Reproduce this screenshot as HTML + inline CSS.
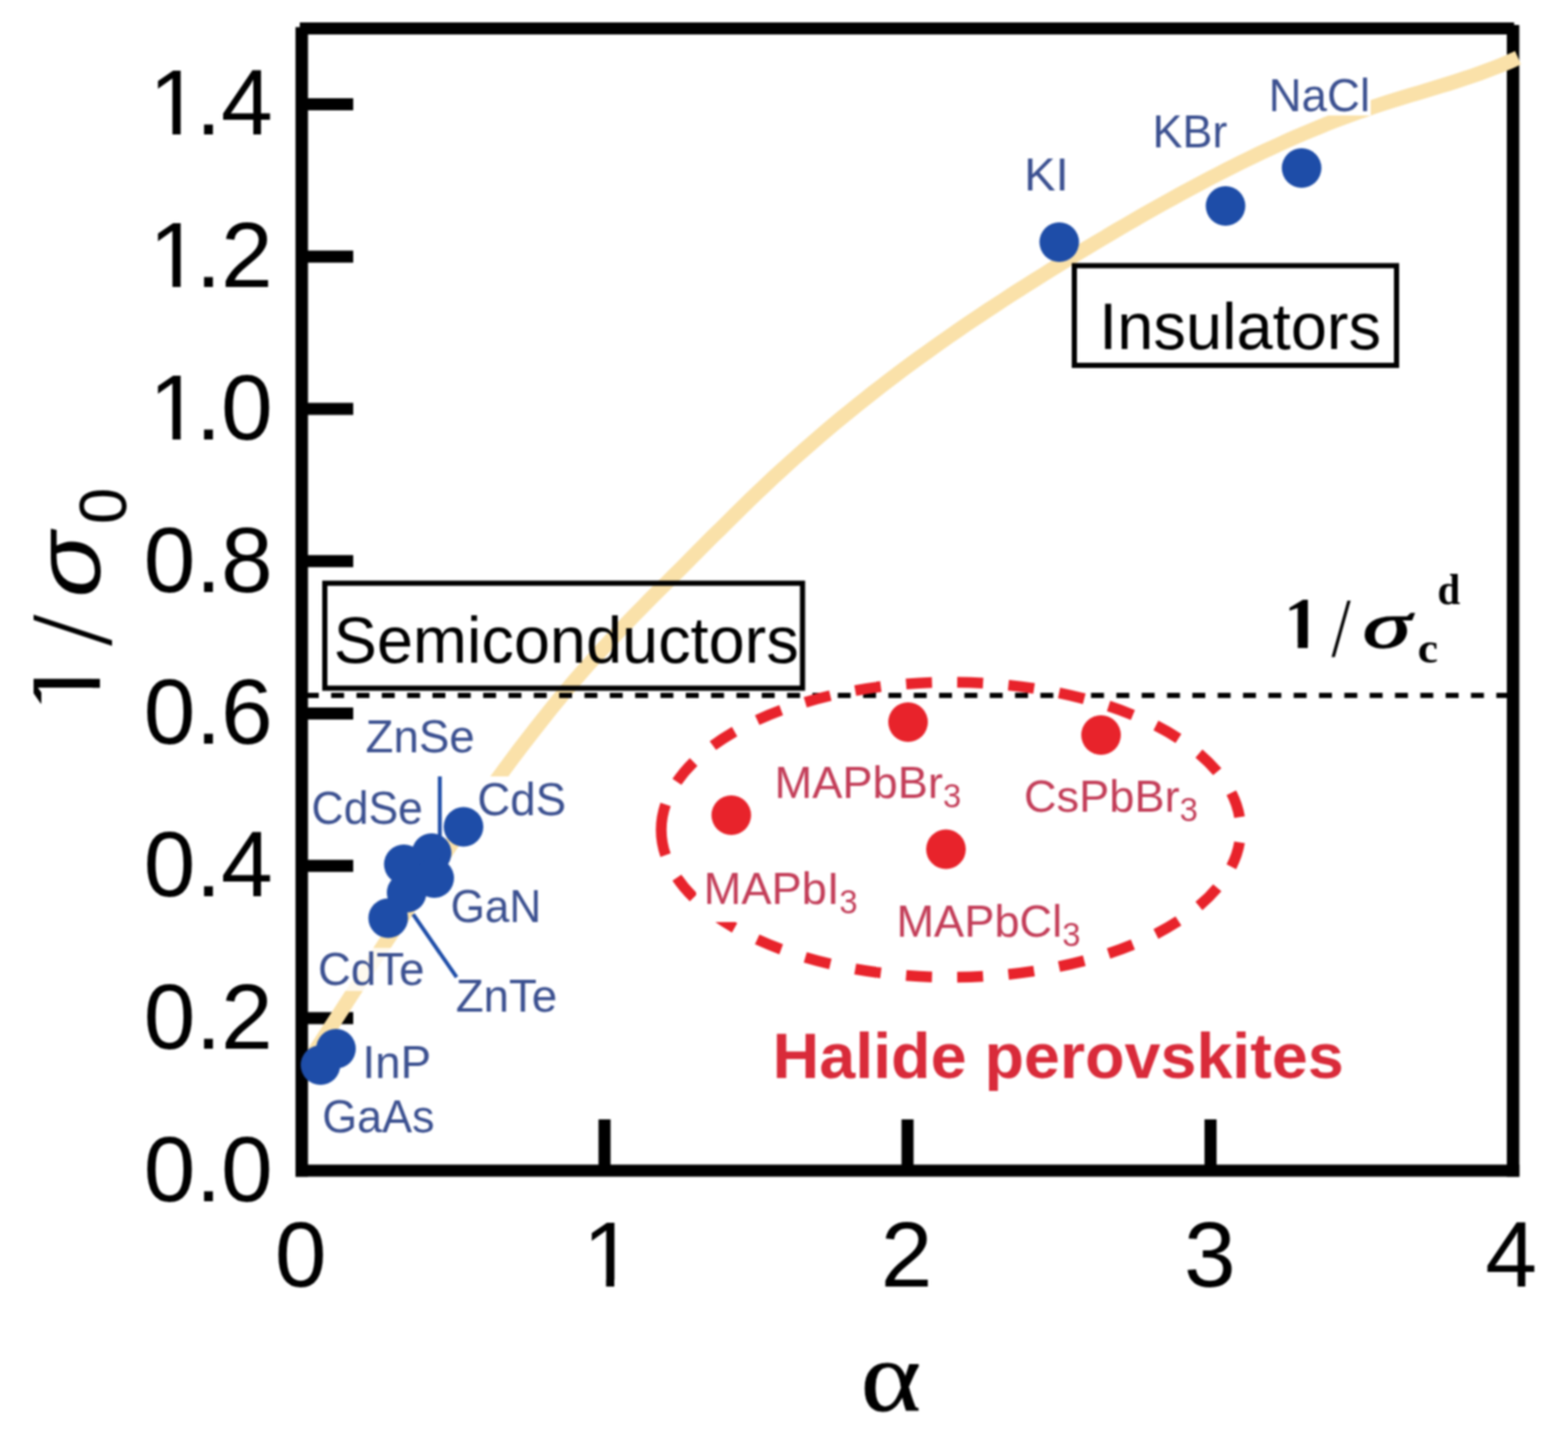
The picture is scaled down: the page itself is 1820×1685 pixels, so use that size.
<!DOCTYPE html>
<html><head><meta charset="utf-8"><title>1/sigma0 vs alpha</title>
<style>html,body{margin:0;padding:0;background:#fff;}svg{display:block;}#w{filter:blur(1px);width:1820px;height:1685px;overflow:hidden;}</style></head>
<body><div id="w"><svg width="1820" height="1685" viewBox="0 0 1820 1685">
<rect width="1820" height="1685" fill="#fff"/>
<rect x="348" y="26" width="1409.5" height="14" fill="#000"/>
<rect x="343" y="31.5" width="14.5" height="1334" fill="#000"/>
<rect x="1749" y="29" width="14.5" height="1336.5" fill="#000"/>
<rect x="343" y="1351.5" width="1420.5" height="14" fill="#000"/>
<rect x="350" y="1174.5" width="60" height="14" fill="#000"/>
<rect x="350" y="997.8" width="60" height="14" fill="#000"/>
<rect x="350" y="821.0" width="60" height="14" fill="#000"/>
<rect x="350" y="644.2" width="60" height="14" fill="#000"/>
<rect x="350" y="467.5" width="60" height="14" fill="#000"/>
<rect x="350" y="290.8" width="60" height="14" fill="#000"/>
<rect x="350" y="114.0" width="60" height="14" fill="#000"/>
<rect x="694.7" y="1299" width="14" height="60" fill="#000"/>
<rect x="1046.4" y="1299" width="14" height="60" fill="#000"/>
<rect x="1398.1" y="1299" width="14" height="60" fill="#000"/>
<text x="166.8 227.0 256.5" y="1393.5" font-size="108" font-family="Liberation Sans, Arial, sans-serif">0.0</text>
<text x="166.8 227.0 256.5" y="1216.7" font-size="108" font-family="Liberation Sans, Arial, sans-serif">0.2</text>
<text x="166.8 227.0 256.5" y="1040.0" font-size="108" font-family="Liberation Sans, Arial, sans-serif">0.4</text>
<text x="166.8 227.0 256.5" y="863.2" font-size="108" font-family="Liberation Sans, Arial, sans-serif">0.6</text>
<text x="166.8 227.0 256.5" y="686.5" font-size="108" font-family="Liberation Sans, Arial, sans-serif">0.8</text>
<text x="173.1 227.0 256.5" y="509.7" font-size="108" font-family="Liberation Sans, Arial, sans-serif">1.0</text>
<rect x="179.6" y="501.3" width="20.6" height="9.9" fill="#fff"/><rect x="209.7" y="501.3" width="20.6" height="9.9" fill="#fff"/>
<text x="173.1 227.0 256.5" y="332.9" font-size="108" font-family="Liberation Sans, Arial, sans-serif">1.2</text>
<rect x="179.6" y="324.5" width="20.6" height="9.9" fill="#fff"/><rect x="209.7" y="324.5" width="20.6" height="9.9" fill="#fff"/>
<text x="173.1 227.0 256.5" y="156.2" font-size="108" font-family="Liberation Sans, Arial, sans-serif">1.4</text>
<rect x="179.6" y="147.8" width="20.6" height="9.9" fill="#fff"/><rect x="209.7" y="147.8" width="20.6" height="9.9" fill="#fff"/>
<text x="319.1" y="1493.3" font-size="108" font-family="Liberation Sans, Arial, sans-serif">0</text>
<text x="676.4" y="1493.3" font-size="108" font-family="Liberation Sans, Arial, sans-serif">1</text>
<rect x="682.9" y="1484.9" width="20.6" height="9.9" fill="#fff"/><rect x="713.0" y="1484.9" width="20.6" height="9.9" fill="#fff"/>
<text x="1022.3" y="1493.3" font-size="108" font-family="Liberation Sans, Arial, sans-serif">2</text>
<text x="1374.3" y="1493.3" font-size="108" font-family="Liberation Sans, Arial, sans-serif">3</text>
<text x="1724.0" y="1493.3" font-size="108" font-family="Liberation Sans, Arial, sans-serif">4</text>
<text transform="translate(998.9,1636.9) scale(1.1461,1)" font-size="116.46" font-family="Liberation Serif, serif" fill="#000" stroke="#000" stroke-width="0.8">α</text>
<g transform="rotate(-90)"><text x="-827.8" y="116" font-size="118" font-family="Liberation Sans, Arial, sans-serif">1</text><rect x="-820.7" y="106.8" width="22.5" height="10.7" fill="#fff"/><rect x="-787.8" y="106.8" width="22.5" height="10.7" fill="#fff"/><text transform="translate(-749.5,129.1) scale(0.9638,1)" font-size="135.82" font-family="Liberation Serif, serif" fill="#000" >/</text><text transform="translate(-693.6,116.1) scale(1.1747,1)" font-size="107.41" font-family="Liberation Sans, sans-serif" fill="#000" font-style="italic" >σ</text><text transform="translate(-608.2,145.5) scale(0.9772,1)" font-size="77.61" font-family="Liberation Sans, sans-serif" fill="#000" >0</text></g>
<rect x="0" y="0" width="39" height="1685" fill="#fff"/>
<rect x="48" y="799" width="16" height="26" fill="#fff"/>
<defs><clipPath id="cc"><rect x="357.5" y="0" width="1500" height="1685"/></clipPath></defs>
<path d="M345.0,1252.0 L353.9,1238.3 L362.8,1224.5 L371.7,1210.7 L380.6,1196.9 L389.6,1183.1 L398.5,1169.3 L407.4,1155.5 L416.3,1141.8 L425.2,1128.0 L434.1,1114.3 L443.0,1100.7 L451.9,1087.1 L460.9,1073.5 L469.8,1060.0 L478.7,1046.6 L487.6,1033.2 L496.5,1019.9 L505.4,1006.7 L514.3,993.6 L523.2,980.6 L532.2,967.7 L541.1,954.9 L550.0,942.2 L558.9,929.6 L567.8,917.2 L576.7,904.9 L585.6,892.8 L594.5,880.8 L603.4,868.9 L612.4,857.3 L621.3,845.8 L630.2,834.4 L639.1,823.3 L648.0,812.3 L656.9,801.6 L665.8,791.0 L674.7,780.7 L683.7,770.5 L692.6,760.6 L701.5,750.8 L710.4,741.2 L719.3,731.7 L728.2,722.4 L737.1,713.2 L746.0,704.1 L754.9,695.1 L763.9,686.1 L772.8,677.2 L781.7,668.3 L790.6,659.4 L799.5,650.5 L808.4,641.5 L817.3,632.6 L826.2,623.6 L835.2,614.8 L844.1,605.9 L853.0,597.1 L861.9,588.4 L870.8,579.7 L879.7,571.1 L888.6,562.7 L897.5,554.3 L906.5,546.1 L915.4,538.0 L924.3,530.0 L933.2,522.1 L942.1,514.3 L951.0,506.6 L959.9,499.0 L968.8,491.5 L977.7,484.1 L986.7,476.9 L995.6,469.7 L1004.5,462.6 L1013.4,455.5 L1022.3,448.6 L1031.2,441.8 L1040.1,435.0 L1049.0,428.3 L1058.0,421.7 L1066.9,415.2 L1075.8,408.8 L1084.7,402.4 L1093.6,396.1 L1102.5,389.9 L1111.4,383.7 L1120.3,377.6 L1129.3,371.5 L1138.2,365.6 L1147.1,359.6 L1156.0,353.8 L1164.9,348.0 L1173.8,342.2 L1182.7,336.5 L1191.6,330.8 L1200.5,325.2 L1209.5,319.6 L1218.4,314.1 L1227.3,308.5 L1236.2,303.1 L1245.1,297.6 L1254.0,292.2 L1262.9,286.9 L1271.8,281.5 L1280.8,276.2 L1289.7,270.9 L1298.6,265.7 L1307.5,260.5 L1316.4,255.3 L1325.3,250.2 L1334.2,245.1 L1343.1,240.1 L1352.1,235.1 L1361.0,230.2 L1369.9,225.3 L1378.8,220.5 L1387.7,215.7 L1396.6,210.9 L1405.5,206.3 L1414.4,201.7 L1423.3,197.1 L1432.3,192.6 L1441.2,188.2 L1450.1,183.8 L1459.0,179.5 L1467.9,175.3 L1476.8,171.2 L1485.7,167.1 L1494.6,163.1 L1503.6,159.1 L1512.5,155.3 L1521.4,151.5 L1530.3,147.8 L1539.2,144.2 L1548.1,140.7 L1557.0,137.3 L1565.9,134.0 L1574.8,130.7 L1583.8,127.6 L1592.7,124.5 L1601.6,121.5 L1610.5,118.7 L1619.4,115.9 L1628.3,113.1 L1637.2,110.4 L1646.1,107.8 L1655.1,105.1 L1664.0,102.4 L1672.9,99.7 L1681.8,97.0 L1690.7,94.1 L1699.6,91.2 L1708.5,88.2 L1717.4,85.1 L1726.4,81.8 L1735.3,78.4 L1744.2,74.8 L1753.1,71.1 L1762.0,67.1" fill="none" stroke="#FAE1A9" stroke-width="17" stroke-linecap="butt" clip-path="url(#cc)"/>
<rect x="540" y="901" width="120" height="54" fill="#fff"/>
<rect x="1470" y="84" width="121" height="50" fill="#fff"/>
<rect x="366" y="1100" width="129" height="50" fill="#fff" fill-opacity="0.8"/>
<line x1="355" y1="807" x2="1749" y2="807" stroke="#000" stroke-width="6" stroke-dasharray="15 14.4"/>
<rect x="377" y="676.8" width="554.5" height="121.8" fill="none" stroke="#000" stroke-width="6"/>
<rect x="1247" y="308.3" width="374" height="115.7" fill="none" stroke="#000" stroke-width="6"/>
<text x="387.2" y="769.2" font-size="75.3" font-family="Liberation Sans, Arial, sans-serif" fill="#000" >Semiconductors</text>
<text x="1275.7" y="404.9" font-size="75.5" font-family="Liberation Sans, Arial, sans-serif" fill="#000" >Insulators</text>
<line x1="510.5" y1="901" x2="510.5" y2="975" stroke="#1E4DA8" stroke-width="4.5"/>
<line x1="479.5" y1="1061" x2="530" y2="1134" stroke="#1E4DA8" stroke-width="4.5"/>
<circle cx="1229.5" cy="281" r="23" fill="#1E4DA8"/>
<circle cx="1422.5" cy="239" r="23" fill="#1E4DA8"/>
<circle cx="1510.8" cy="195" r="23" fill="#1E4DA8"/>
<circle cx="538" cy="959.5" r="23" fill="#1E4DA8"/>
<circle cx="501" cy="990" r="23" fill="#1E4DA8"/>
<circle cx="468.7" cy="1003" r="23" fill="#1E4DA8"/>
<circle cx="504" cy="1019" r="23" fill="#1E4DA8"/>
<circle cx="472" cy="1036" r="23" fill="#1E4DA8"/>
<circle cx="450.6" cy="1065.4" r="23" fill="#1E4DA8"/>
<circle cx="390" cy="1217" r="23" fill="#1E4DA8"/>
<circle cx="372" cy="1236" r="23" fill="#1E4DA8"/>
<text transform="translate(1188.8,221.0) scale(1.0316,1)" font-size="53.0" font-family="Liberation Sans, Arial, sans-serif" fill="#3B5090" >KI</text>
<text transform="translate(1337.8,171.2) scale(0.9831,1)" font-size="53.0" font-family="Liberation Sans, Arial, sans-serif" fill="#3B5090" >KBr</text>
<text x="1472.4" y="128.5" font-size="53.0" font-family="Liberation Sans, Arial, sans-serif" fill="#3B5090" >NaCl</text>
<text x="424.3" y="873.0" font-size="53.0" font-family="Liberation Sans, Arial, sans-serif" fill="#3B5090" >ZnSe</text>
<text transform="translate(361.6,955.5) scale(0.9752,1)" font-size="53.0" font-family="Liberation Sans, Arial, sans-serif" fill="#3B5090" >CdSe</text>
<text x="553.9" y="945.5" font-size="53.0" font-family="Liberation Sans, Arial, sans-serif" fill="#3B5090" >CdS</text>
<text transform="translate(522.9,1069.5) scale(0.9684,1)" font-size="53.0" font-family="Liberation Sans, Arial, sans-serif" fill="#3B5090" >GaN</text>
<text x="369.0" y="1143.0" font-size="53.0" font-family="Liberation Sans, Arial, sans-serif" fill="#3B5090" >CdTe</text>
<text x="528.9" y="1173.5" font-size="53.0" font-family="Liberation Sans, Arial, sans-serif" fill="#3B5090" >ZnTe</text>
<text x="420.7" y="1251.2" font-size="53.0" font-family="Liberation Sans, Arial, sans-serif" fill="#3B5090" >InP</text>
<text transform="translate(373.9,1313.5) scale(0.9844,1)" font-size="53.0" font-family="Liberation Sans, Arial, sans-serif" fill="#3B5090" >GaAs</text>
<path d="M767.5,962.9 A336.25,171.2 0 0 1 1440.0,962.9 A336.25,171.2 0 0 1 767.5,962.9" pathLength="1000" fill="none" stroke="#E8232B" stroke-width="12.5" stroke-dasharray="18.362 17.995"/>
<circle cx="1054" cy="838" r="23" fill="#E8232B"/>
<circle cx="1278" cy="853" r="23" fill="#E8232B"/>
<circle cx="848.8" cy="946" r="23" fill="#E8232B"/>
<circle cx="1098" cy="985.6" r="23" fill="#E8232B"/>
<text x="899.0" y="926.0" font-size="52.5" font-family="Liberation Sans, Arial, sans-serif" fill="#C33D58">MAPbBr<tspan font-size="38" dy="11">3</tspan></text>
<text x="1188.4" y="942.0" font-size="52.5" font-family="Liberation Sans, Arial, sans-serif" fill="#C33D58">CsPbBr<tspan font-size="38" dy="11">3</tspan></text>
<rect x="808" y="1005" width="192" height="65" fill="#fff"/>
<text x="816.8" y="1049.0" font-size="52.5" font-family="Liberation Sans, Arial, sans-serif" fill="#C33D58">MAPbI<tspan font-size="38" dy="11">3</tspan></text>
<text x="1040.4" y="1086.5" font-size="52.5" font-family="Liberation Sans, Arial, sans-serif" fill="#C33D58">MAPbCl<tspan font-size="38" dy="11">3</tspan></text>
<text x="896.8" y="1251.0" font-size="75.0" font-family="Liberation Sans, Arial, sans-serif" font-weight="bold" fill="#D92B3A" >Halide perovskites</text>
<text x="1490.0" y="752" font-size="84" font-family="Liberation Serif, Times New Roman, serif" font-weight="bold">1</text>
<rect x="1495.1" y="746.1" width="11.2" height="7.4" fill="#fff"/><rect x="1518.0" y="746.1" width="11.5" height="7.4" fill="#fff"/>
<text transform="translate(1545.5,761.1) scale(0.8297,1)" font-size="96.42" font-family="Liberation Serif, serif" fill="#000" >/</text>
<text transform="translate(1581.8,750.7) scale(1.4848,1)" font-size="76.19" font-family="Liberation Serif, serif" fill="#000" font-style="italic" stroke="#000" stroke-width="1.5">σ</text>
<text transform="translate(1645.6,769.0) scale(1.0561,1)" font-size="50.42" font-family="Liberation Serif, serif" fill="#000" font-weight="bold" >c</text>
<text transform="translate(1668.6,700.5) scale(0.9438,1)" font-size="50.35" font-family="Liberation Serif, serif" fill="#000" font-weight="bold" >d</text>
</svg></div></body></html>
